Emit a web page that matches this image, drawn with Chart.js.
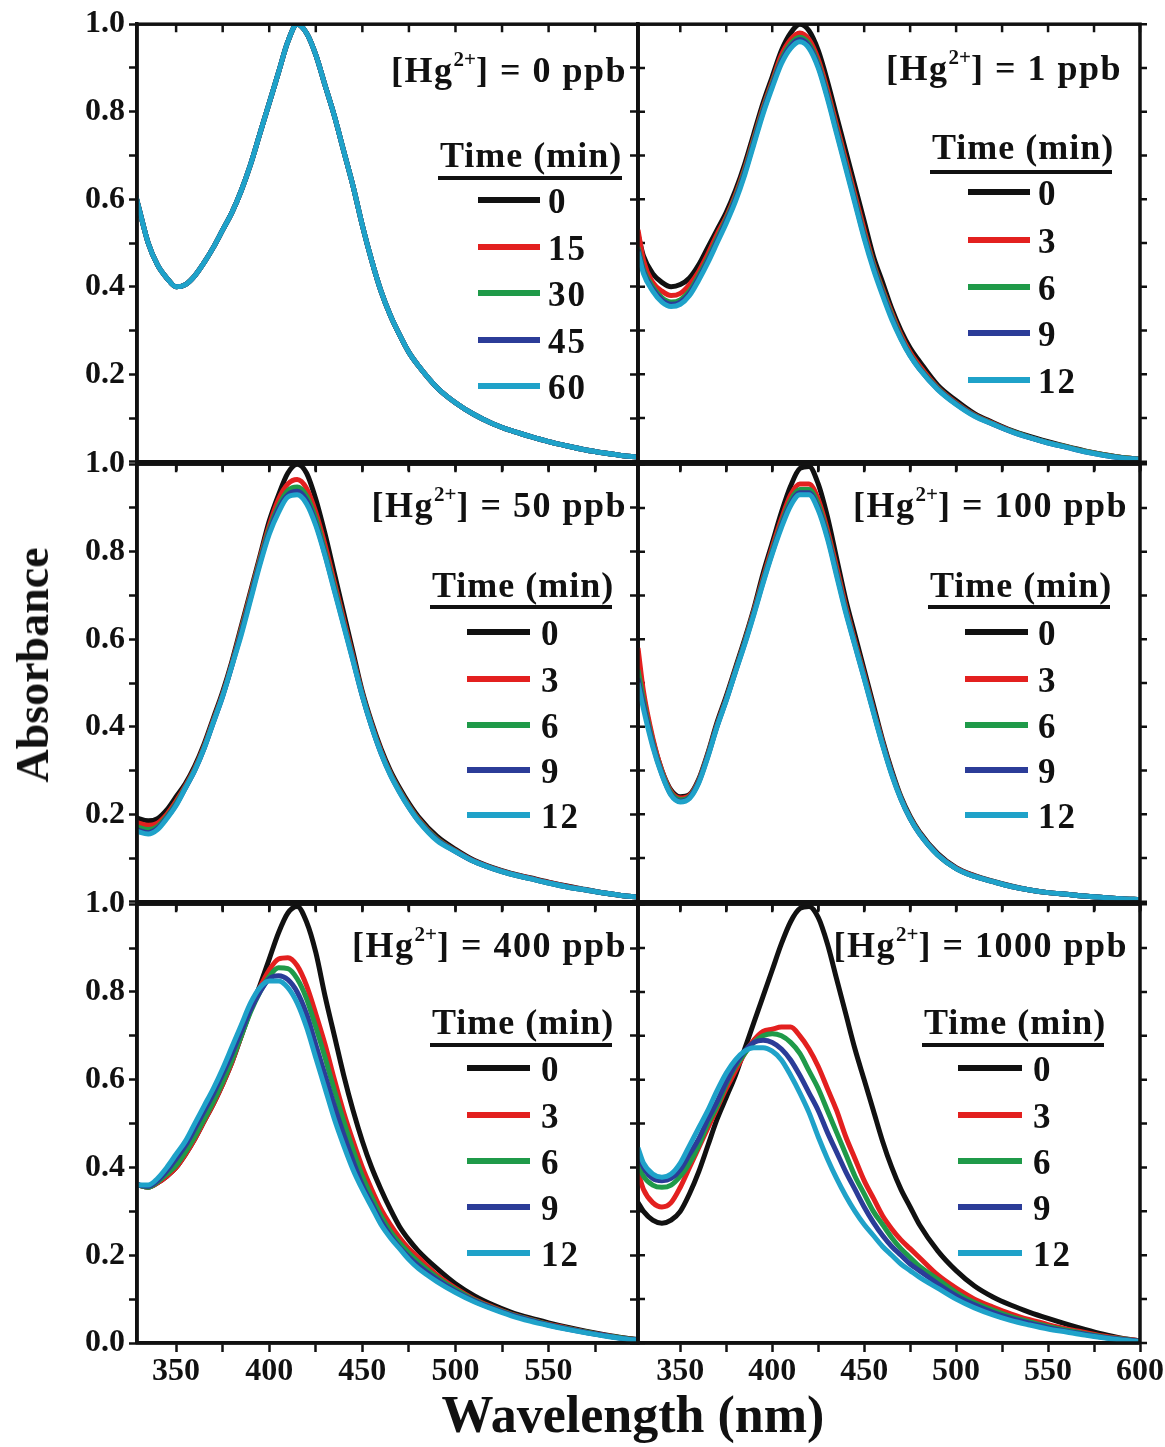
<!DOCTYPE html>
<html><head><meta charset="utf-8">
<script src="https://cdn.jsdelivr.net/npm/chart.js@4.4.1/dist/chart.umd.min.js"></script>
<style>
html,body{margin:0;padding:0;background:#fff;overflow:hidden;}
#fig{position:relative;width:1165px;height:1447px;font-family:"Liberation Serif","Times New Roman",serif;font-weight:bold;color:#111;}
#fig canvas{position:absolute;}
.t{position:absolute;white-space:nowrap;line-height:1;}
.ann{font-size:36px;letter-spacing:1.5px;transform:translate(-100%,-50%);}
.sup{font-size:21px;position:relative;top:-16px;letter-spacing:0;}
.ttl{font-size:36px;letter-spacing:1px;transform:translateY(-50%);}
.num{font-size:35px;letter-spacing:2px;transform:translateY(-50%);}
.bar{position:absolute;}
</style></head><body><div id="fig"></div><script>
// ---------- data ----------
const wavelengths = [327,330,335,340,345,350,355,360,365,370,375,380,385,390,395,400,405,410,415,420,425,430,435,440,445,450,455,460,465,470,475,480,490,500,510,520,530,540,550,560,570,580,590,600];
const hgLabels = ['0','1','50','100','400','1000'];
const timesPanel0 = ['0','15','30','45','60'];
const timesOther = ['0','3','6','9','12'];
const seriesColors = ['#111111','#e3201f','#1f9a49','#2b3c98','#1fa2c9'];
const yTickValues = [0,0.1,0.2,0.3,0.4,0.5,0.6,0.7,0.8,0.9,1.0];
const yTickLabels = ['0.0','','0.2','','0.4','','0.6','','0.8','','1.0'];
const xTickValues = [350,375,400,425,450,475,500,525,550,575,600];
const xTickLabels = ['350','','400','','450','','500','','550','','600'];

// [Hg2+] = 0 ppb (all five times coincide)
const hg0 = [0.63,0.58,0.50,0.45,0.42,0.40,0.405,0.425,0.455,0.49,0.53,0.57,0.62,0.68,0.75,0.82,0.89,0.96,1.00,0.98,0.93,0.86,0.79,0.71,0.63,0.54,0.46,0.39,0.335,0.29,0.25,0.22,0.17,0.135,0.108,0.087,0.071,0.058,0.046,0.036,0.027,0.02,0.014,0.01];
// [Hg2+] = 1 ppb
const hg1_t0 = [0.52,0.47,0.43,0.41,0.40,0.405,0.42,0.45,0.49,0.53,0.57,0.62,0.68,0.75,0.82,0.88,0.94,0.98,1.00,0.985,0.94,0.87,0.79,0.71,0.63,0.55,0.47,0.41,0.35,0.30,0.26,0.23,0.175,0.14,0.11,0.09,0.072,0.058,0.046,0.035,0.025,0.017,0.01,0.006];
const hg1_t3 = [0.53,0.46,0.41,0.39,0.38,0.385,0.405,0.435,0.475,0.52,0.56,0.61,0.67,0.74,0.81,0.87,0.93,0.965,0.98,0.965,0.92,0.85,0.77,0.69,0.61,0.53,0.455,0.395,0.34,0.29,0.25,0.22,0.17,0.135,0.107,0.088,0.07,0.056,0.044,0.034,0.024,0.016,0.01,0.006];
const hg1_t6 = [0.49,0.44,0.40,0.375,0.365,0.37,0.39,0.425,0.465,0.51,0.555,0.605,0.665,0.735,0.805,0.865,0.92,0.955,0.97,0.955,0.91,0.84,0.76,0.68,0.60,0.52,0.45,0.39,0.335,0.285,0.245,0.215,0.168,0.133,0.106,0.087,0.07,0.056,0.044,0.034,0.024,0.016,0.01,0.006];
const hg1_t9 = [0.485,0.435,0.395,0.37,0.36,0.365,0.385,0.42,0.46,0.505,0.55,0.60,0.66,0.73,0.80,0.86,0.915,0.95,0.965,0.95,0.905,0.835,0.755,0.675,0.595,0.515,0.445,0.385,0.33,0.282,0.243,0.213,0.166,0.132,0.105,0.086,0.069,0.055,0.043,0.033,0.023,0.015,0.009,0.005];
const hg1_t12 = [0.48,0.43,0.39,0.365,0.355,0.36,0.38,0.415,0.455,0.50,0.545,0.595,0.655,0.725,0.795,0.855,0.91,0.945,0.96,0.945,0.90,0.83,0.75,0.67,0.59,0.51,0.44,0.38,0.325,0.28,0.242,0.212,0.165,0.131,0.104,0.086,0.069,0.055,0.043,0.033,0.023,0.015,0.009,0.005];
// [Hg2+] = 50 ppb
const hg50_t0 = [0.195,0.19,0.185,0.19,0.21,0.24,0.27,0.31,0.36,0.42,0.48,0.55,0.63,0.71,0.79,0.87,0.93,0.98,1.00,0.98,0.92,0.84,0.75,0.66,0.57,0.48,0.41,0.35,0.30,0.26,0.225,0.195,0.15,0.12,0.095,0.078,0.065,0.055,0.045,0.036,0.028,0.02,0.014,0.01];
const hg50_t3 = [0.185,0.18,0.175,0.18,0.20,0.23,0.265,0.305,0.355,0.415,0.475,0.545,0.625,0.705,0.785,0.86,0.92,0.955,0.965,0.945,0.89,0.815,0.73,0.645,0.56,0.475,0.405,0.345,0.295,0.255,0.22,0.19,0.145,0.117,0.093,0.077,0.064,0.054,0.044,0.035,0.027,0.02,0.014,0.01];
const hg50_t6 = [0.175,0.17,0.165,0.172,0.195,0.225,0.262,0.302,0.352,0.412,0.472,0.542,0.62,0.70,0.78,0.852,0.905,0.94,0.948,0.928,0.875,0.80,0.72,0.637,0.555,0.472,0.402,0.342,0.293,0.253,0.218,0.188,0.144,0.116,0.092,0.076,0.063,0.053,0.043,0.034,0.027,0.02,0.014,0.01];
const hg50_t9 = [0.168,0.163,0.158,0.168,0.192,0.222,0.26,0.30,0.35,0.41,0.47,0.54,0.615,0.695,0.775,0.845,0.898,0.93,0.938,0.918,0.865,0.793,0.713,0.633,0.552,0.47,0.40,0.34,0.291,0.251,0.216,0.186,0.142,0.115,0.092,0.076,0.063,0.053,0.043,0.034,0.027,0.02,0.014,0.01];
const hg50_t12 = [0.165,0.16,0.155,0.165,0.19,0.22,0.26,0.30,0.35,0.41,0.47,0.54,0.61,0.69,0.77,0.84,0.89,0.925,0.93,0.91,0.86,0.79,0.71,0.63,0.55,0.47,0.40,0.34,0.29,0.25,0.215,0.185,0.14,0.115,0.092,0.076,0.063,0.053,0.043,0.034,0.027,0.02,0.014,0.01];
// [Hg2+] = 100 ppb
const hg100_t0 = [0.55,0.47,0.37,0.30,0.255,0.24,0.245,0.28,0.34,0.41,0.47,0.535,0.60,0.67,0.75,0.82,0.89,0.95,0.99,0.995,0.955,0.88,0.785,0.69,0.61,0.53,0.45,0.37,0.30,0.24,0.195,0.16,0.11,0.078,0.06,0.047,0.036,0.027,0.021,0.017,0.013,0.01,0.007,0.005];
const hg100_t3 = [0.58,0.48,0.375,0.30,0.252,0.237,0.243,0.277,0.337,0.405,0.465,0.53,0.595,0.665,0.74,0.81,0.875,0.93,0.955,0.955,0.92,0.85,0.765,0.675,0.595,0.52,0.44,0.365,0.295,0.237,0.192,0.158,0.108,0.077,0.059,0.046,0.035,0.027,0.021,0.017,0.013,0.01,0.007,0.005];
const hg100_t6 = [0.53,0.46,0.365,0.295,0.248,0.233,0.24,0.275,0.335,0.403,0.463,0.528,0.593,0.662,0.735,0.803,0.865,0.918,0.942,0.942,0.908,0.84,0.755,0.668,0.59,0.515,0.437,0.362,0.293,0.236,0.191,0.157,0.107,0.076,0.058,0.046,0.035,0.027,0.021,0.017,0.013,0.01,0.007,0.005];
const hg100_t9 = [0.51,0.45,0.36,0.292,0.245,0.23,0.238,0.273,0.333,0.401,0.461,0.526,0.59,0.659,0.731,0.798,0.86,0.91,0.935,0.935,0.90,0.835,0.75,0.664,0.587,0.512,0.435,0.36,0.292,0.235,0.19,0.156,0.107,0.076,0.058,0.046,0.035,0.027,0.021,0.017,0.013,0.01,0.007,0.005];
const hg100_t12 = [0.50,0.44,0.355,0.29,0.243,0.228,0.236,0.271,0.331,0.40,0.46,0.525,0.588,0.656,0.728,0.795,0.855,0.905,0.93,0.93,0.895,0.83,0.745,0.66,0.585,0.51,0.433,0.358,0.29,0.234,0.19,0.156,0.107,0.076,0.058,0.046,0.035,0.027,0.021,0.017,0.013,0.01,0.007,0.005];
// [Hg2+] = 400 ppb
const hg400_t0 = [0.365,0.36,0.355,0.365,0.38,0.40,0.43,0.465,0.505,0.545,0.59,0.64,0.70,0.76,0.815,0.875,0.935,0.98,0.995,0.96,0.89,0.79,0.70,0.61,0.53,0.46,0.40,0.35,0.305,0.265,0.235,0.21,0.17,0.135,0.108,0.087,0.07,0.057,0.046,0.036,0.027,0.019,0.012,0.007];
const hg400_t3 = [0.365,0.36,0.355,0.365,0.38,0.40,0.43,0.465,0.505,0.545,0.59,0.64,0.70,0.76,0.81,0.85,0.875,0.878,0.86,0.815,0.75,0.68,0.60,0.525,0.46,0.40,0.35,0.305,0.27,0.24,0.215,0.195,0.155,0.125,0.10,0.082,0.066,0.054,0.043,0.034,0.025,0.018,0.011,0.006];
const hg400_t6 = [0.365,0.36,0.355,0.367,0.385,0.405,0.435,0.47,0.51,0.55,0.595,0.645,0.70,0.755,0.80,0.835,0.855,0.853,0.83,0.785,0.72,0.65,0.575,0.505,0.44,0.38,0.333,0.29,0.255,0.228,0.205,0.185,0.15,0.122,0.098,0.08,0.065,0.053,0.042,0.033,0.025,0.017,0.011,0.006];
const hg400_t9 = [0.365,0.36,0.357,0.37,0.392,0.42,0.45,0.488,0.528,0.568,0.613,0.66,0.71,0.76,0.80,0.83,0.837,0.828,0.80,0.75,0.68,0.61,0.54,0.475,0.415,0.36,0.318,0.278,0.245,0.218,0.196,0.177,0.145,0.118,0.096,0.079,0.064,0.052,0.041,0.032,0.024,0.017,0.01,0.006];
const hg400_t12 = [0.365,0.36,0.36,0.375,0.40,0.43,0.46,0.50,0.54,0.58,0.625,0.675,0.725,0.775,0.81,0.825,0.825,0.81,0.775,0.72,0.65,0.58,0.51,0.45,0.395,0.35,0.31,0.27,0.24,0.215,0.19,0.17,0.14,0.115,0.094,0.077,0.062,0.05,0.04,0.031,0.023,0.016,0.01,0.005];
// [Hg2+] = 1000 ppb
const hg1000_t0 = [0.32,0.30,0.28,0.273,0.28,0.30,0.34,0.39,0.45,0.51,0.56,0.61,0.67,0.73,0.79,0.85,0.91,0.96,0.99,0.995,0.97,0.91,0.83,0.75,0.67,0.60,0.53,0.46,0.40,0.35,0.31,0.27,0.21,0.165,0.13,0.105,0.086,0.07,0.056,0.043,0.031,0.02,0.011,0.005];
const hg1000_t3 = [0.39,0.35,0.32,0.31,0.32,0.355,0.40,0.445,0.49,0.535,0.58,0.62,0.66,0.69,0.71,0.715,0.72,0.72,0.70,0.67,0.63,0.58,0.53,0.47,0.42,0.37,0.33,0.29,0.26,0.235,0.215,0.195,0.155,0.125,0.10,0.082,0.066,0.053,0.042,0.032,0.024,0.016,0.01,0.005];
const hg1000_t6 = [0.41,0.38,0.36,0.355,0.36,0.38,0.41,0.45,0.50,0.54,0.59,0.63,0.66,0.685,0.70,0.705,0.70,0.685,0.66,0.62,0.58,0.53,0.48,0.43,0.38,0.34,0.30,0.27,0.24,0.215,0.195,0.175,0.145,0.115,0.092,0.075,0.06,0.048,0.038,0.029,0.021,0.014,0.009,0.004];
const hg1000_t9 = [0.43,0.40,0.375,0.37,0.375,0.395,0.43,0.465,0.51,0.55,0.595,0.635,0.665,0.685,0.69,0.685,0.67,0.645,0.61,0.57,0.53,0.48,0.435,0.39,0.35,0.31,0.275,0.245,0.22,0.20,0.18,0.165,0.135,0.108,0.087,0.07,0.056,0.045,0.035,0.027,0.02,0.013,0.008,0.004];
const hg1000_t12 = [0.445,0.41,0.385,0.378,0.385,0.41,0.45,0.49,0.53,0.575,0.615,0.645,0.665,0.673,0.673,0.665,0.645,0.61,0.57,0.525,0.47,0.42,0.375,0.335,0.30,0.27,0.245,0.22,0.20,0.18,0.165,0.15,0.125,0.10,0.08,0.064,0.051,0.041,0.032,0.025,0.018,0.012,0.007,0.003];

const panelSeries = [
  [hg0, hg0, hg0, hg0, hg0],
  [hg1_t0, hg1_t3, hg1_t6, hg1_t9, hg1_t12],
  [hg50_t0, hg50_t3, hg50_t6, hg50_t9, hg50_t12],
  [hg100_t0, hg100_t3, hg100_t6, hg100_t9, hg100_t12],
  [hg400_t0, hg400_t3, hg400_t6, hg400_t9, hg400_t12],
  [hg1000_t0, hg1000_t3, hg1000_t6, hg1000_t9, hg1000_t12]
];

// ---------- layout (page pixels) ----------
const colLeft = [137, 638], colRight = [638, 1140];
const rowTop = [23, 463, 903], rowBottom = [463, 903, 1343];
const xRange = [[329, 598], [327, 600]];
const legendLayout = [
  {ann:[627,70],  ttl:[440,155,622,178], ys:[200,247,293,340,386], ln:[478,540], lx:548},
  {ann:[1122,68], ttl:[932,147,1112,172], ys:[192,240,287,333,380], ln:[968,1030], lx:1038},
  {ann:[627,505], ttl:[432,585,612,607], ys:[632,679,725,770,815], ln:[467,530], lx:541},
  {ann:[1128,505],ttl:[930,585,1110,607], ys:[632,679,725,770,815], ln:[965,1028], lx:1038},
  {ann:[627,945], ttl:[432,1022,612,1045], ys:[1068,1115,1161,1207,1253], ln:[467,530], lx:541},
  {ann:[1128,945],ttl:[924,1022,1104,1045], ys:[1068,1115,1161,1207,1253], ln:[958,1022], lx:1033}
];

const fig = document.getElementById('fig');
const INK = '#111';
const tickFontY = {family:'"Liberation Serif","Times New Roman",serif', size:32, weight:'bold'};
const tickFontX = {family:'"Liberation Serif","Times New Roman",serif', size:32, weight:'bold'};

const framePlugin = {
  id: 'frame',
  afterDatasetsDraw(chart) {
    const {ctx, chartArea: a, scales} = chart;
    ctx.save();
    ctx.strokeStyle = INK;
    ctx.lineWidth = 3.5;
    ctx.strokeRect(a.left, a.top, a.right - a.left, a.bottom - a.top);
    ctx.lineWidth = 2.5;
    ctx.beginPath();
    scales.x.ticks.forEach(t => {
      const px = scales.x.getPixelForValue(t.value);
      ctx.moveTo(px, a.top); ctx.lineTo(px, a.top + 8);
    });
    scales.y.ticks.forEach(t => {
      const py = scales.y.getPixelForValue(t.value);
      ctx.moveTo(a.right, py); ctx.lineTo(a.right + 7, py);
    });
    ctx.stroke();
    ctx.restore();
  }
};

for (let p = 0; p < 6; p++) {
  const col = p % 2, row = Math.floor(p / 2);
  const padL = col === 0 ? colLeft[0] : 22;
  const padR = col === 0 ? 22 : 30;
  const padT = 22;
  const padB = row === 2 ? 62 : 22;
  const cw = padL + (colRight[col] - colLeft[col]) + padR;
  const ch = padT + (rowBottom[row] - rowTop[row]) + padB;
  const cv = document.createElement('canvas');
  cv.width = cw; cv.height = ch;
  cv.style.left = (colLeft[col] - padL) + 'px';
  cv.style.top = (rowTop[row] - padT) + 'px';
  cv.style.width = cw + 'px'; cv.style.height = ch + 'px';
  fig.appendChild(cv);

  const times = p === 0 ? timesPanel0 : timesOther;
  const datasets = panelSeries[p].map((arr, i) => ({
    label: times[i],
    data: wavelengths.map((w, j) => ({x: w, y: arr[j]})),
    borderColor: seriesColors[i],
    borderWidth: 5,
    pointRadius: 0,
    fill: false,
    order: 4 - i,
    cubicInterpolationMode: 'monotone'
  }));

  new Chart(cv, {
    type: 'line',
    data: {datasets},
    options: {
      responsive: false, animation: false, devicePixelRatio: 1,
      layout: {padding: {top: padT, right: padR, left: 0, bottom: 0}},
      plugins: {legend: {display: false}, tooltip: {enabled: false}},
      scales: {
        x: {
          type: 'linear', min: xRange[col][0], max: xRange[col][1],
          afterBuildTicks: s => { s.ticks = xTickValues.filter(v => v <= s.max).map(v => ({value: v})); },
          afterFit: s => { s.height = padB; },
          ticks: {
            autoSkip: false, maxRotation: 0, padding: 1, color: INK, font: tickFontX,
            callback: v => row === 2 ? xTickLabels[xTickValues.indexOf(v)] : ''
          },
          grid: {drawOnChartArea: false, drawTicks: true, tickLength: 9, tickWidth: 2.5, tickColor: INK},
          border: {display: true, width: 3.5, color: INK}
        },
        y: {
          type: 'linear', min: 0, max: 1,
          afterBuildTicks: s => { s.ticks = yTickValues.map(v => ({value: v})); },
          afterFit: s => { s.width = padL; },
          ticks: {
            autoSkip: false, padding: 4, color: INK, font: tickFontY,
            callback: (v, i) => {
              if (col !== 0) return '';
              if (row !== 2 && i === 0) return '';
              return yTickLabels[i];
            }
          },
          grid: {drawOnChartArea: false, drawTicks: true, tickLength: 8, tickWidth: 2.5, tickColor: INK},
          border: {display: true, width: 3.5, color: INK}
        }
      }
    },
    plugins: [framePlugin]
  });

  // annotation + legend (text kept as real text)
  const L = legendLayout[p];
  const ann = document.createElement('div');
  ann.className = 't ann';
  ann.style.left = L.ann[0] + 'px'; ann.style.top = L.ann[1] + 'px';
  ann.innerHTML = '[Hg<span class="sup">2+</span>] = ' + hgLabels[p] + ' ppb';
  fig.appendChild(ann);

  const ttl = document.createElement('div');
  ttl.className = 't ttl';
  ttl.style.left = L.ttl[0] + 'px'; ttl.style.top = L.ttl[1] + 'px';
  ttl.textContent = 'Time (min)';
  fig.appendChild(ttl);
  const ul = document.createElement('div');
  ul.className = 'bar';
  ul.style.cssText = `left:${L.ttl[0]-2}px;top:${L.ttl[3]-2}px;width:${L.ttl[2]-L.ttl[0]+2}px;height:4px;background:${INK};`;
  fig.appendChild(ul);

  times.forEach((t, i) => {
    const y = L.ys[i];
    const b = document.createElement('div');
    b.className = 'bar';
    b.style.cssText = `left:${L.ln[0]}px;top:${y-3}px;width:${L.ln[1]-L.ln[0]}px;height:6px;background:${seriesColors[i]};`;
    fig.appendChild(b);
    const n = document.createElement('div');
    n.className = 't num';
    n.style.left = L.lx + 'px'; n.style.top = (y + 1) + 'px';
    n.textContent = t;
    fig.appendChild(n);
  });
}

// axis titles
const yt = document.createElement('div');
yt.className = 't';
yt.style.cssText = 'left:33px;top:665px;font-size:46px;transform:translate(-50%,-50%) rotate(-90deg);';
yt.textContent = 'Absorbance';
fig.appendChild(yt);
const xt = document.createElement('div');
xt.className = 't';
xt.style.cssText = 'left:633px;top:1415px;font-size:52px;transform:translate(-50%,-50%);';
xt.textContent = 'Wavelength (nm)';
fig.appendChild(xt);
</script></body></html>
